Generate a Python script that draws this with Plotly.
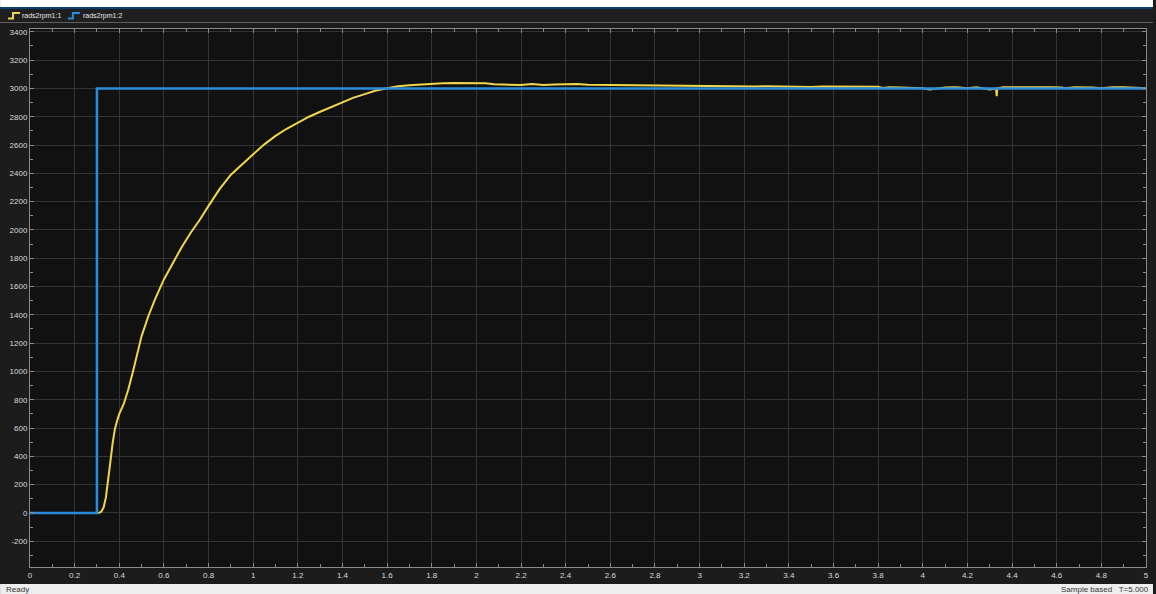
import plotly.graph_objects as go

# Scope signals: measured speed (rads2rpm1:1) and speed reference (rads2rpm1:2)
t_speed = [0.00, 0.30, 0.31, 0.32, 0.33, 0.34, 0.35, 0.36, 0.37, 0.38, 0.39, 0.40,
           0.42, 0.44, 0.46, 0.48, 0.50, 0.53, 0.56, 0.60, 0.64, 0.68, 0.72, 0.76,
           0.80, 0.85, 0.90, 0.95, 1.00, 1.05, 1.10, 1.15, 1.20, 1.25, 1.30, 1.35,
           1.40, 1.45, 1.50, 1.55, 1.60, 1.65, 1.70, 1.75, 1.80, 1.85, 1.90, 1.95,
           2.00, 2.04, 2.08, 2.12, 2.16, 2.20, 2.25, 2.30, 2.35, 2.40, 2.45, 2.50,
           2.55, 2.60, 2.65, 2.70, 2.75, 2.80, 2.85, 2.90, 2.95, 3.00, 3.05, 3.10,
           3.15, 3.20, 3.25, 3.30, 3.35, 3.40, 3.45, 3.50, 3.55, 3.60, 3.65, 3.70,
           3.75, 3.80, 3.82, 3.85, 3.90, 3.95, 4.00, 4.03, 4.06, 4.10, 4.15, 4.20,
           4.24, 4.27, 4.30, 4.328, 4.331, 4.334, 4.36, 4.40, 4.45, 4.50, 4.55, 4.58,
           4.62, 4.64, 4.68, 4.72, 4.76, 4.80, 4.85, 4.90, 4.95, 5.00]
speed_rpm = [0, 0, 2, 10, 40, 110, 220, 360, 490, 590, 650, 700,
             770, 870, 990, 1120, 1250, 1390, 1510, 1650, 1770, 1880, 1980, 2070,
             2170, 2290, 2390, 2465, 2535, 2605, 2665, 2715, 2760, 2800, 2835, 2870,
             2905, 2935, 2960, 2985, 3002, 3015, 3022, 3028, 3032, 3036, 3038, 3038,
             3038, 3036, 3030, 3028, 3026, 3024, 3031, 3024, 3027, 3030, 3031, 3026,
             3025, 3027, 3026, 3026, 3023, 3020, 3018, 3018, 3018, 3017, 3018, 3017,
             3015, 3016, 3014, 3015, 3013, 3012, 3013, 3011, 3013, 3012, 3011, 3013,
             3010, 3012, 3003, 3008, 3007, 3006, 3001, 2993, 3000, 3007, 3008, 3002,
             3008, 3001, 2993, 2999, 2945, 3000, 3008, 3008, 3009, 3008, 3006, 3008,
             3007, 3002, 3008, 3008, 3007, 3002, 3008, 3008, 3007, 3002]

t_ref = [0.0, 0.3, 5.0]
ref_rpm = [0, 3000, 3000]

x_ticks = [0, 0.2, 0.4, 0.6, 0.8, 1, 1.2, 1.4, 1.6, 1.8, 2, 2.2, 2.4, 2.6, 2.8,
           3, 3.2, 3.4, 3.6, 3.8, 4, 4.2, 4.4, 4.6, 4.8, 5]
y_ticks = [-200, 0, 200, 400, 600, 800, 1000, 1200, 1400, 1600, 1800, 2000,
           2200, 2400, 2600, 2800, 3000, 3200, 3400]
legend_names = ["rads2rpm1:1", "rads2rpm1:2"]

YELLOW = "#F0D64A"
BLUE = "#2A8CDB"
FONT = "Liberation Sans, Arial, sans-serif"

W, H = 1156, 594
ML, MR, MT, MB = 30, 7, 29, 27
PW, PH = W - ML - MR, H - MT - MB


def px(x):
    return (x - ML) / PW


def py(y):
    return (H - MB - y) / PH


fig = go.Figure()
fig.add_trace(go.Scatter(x=t_speed, y=speed_rpm, mode="lines", name=legend_names[0],
                         line=dict(color=YELLOW, width=2), showlegend=False))
fig.add_trace(go.Scatter(x=t_ref, y=ref_rpm, mode="lines", name=legend_names[1],
                         line=dict(color=BLUE, width=2.5, shape="hv"), showlegend=False))

tick_font = dict(family=FONT, size=8, color="#dadada")
axis_common = dict(
    showgrid=True, gridcolor="#343434", gridwidth=1, zeroline=False,
    showline=True, linecolor="#8a8a8a", linewidth=1, mirror="ticks",
    ticks="inside", ticklen=4, tickcolor="#8a8a8a", tickfont=tick_font,
)

fig.update_xaxes(range=[0, 5], tickvals=x_ticks,
                 ticktext=[f"{v:g}" for v in x_ticks],
                 minor=dict(dtick=0.1, ticks="inside", ticklen=3, tickcolor="#8a8a8a",
                            showgrid=False),
                 **axis_common)
fig.update_yaxes(range=[-382, 3420], tickvals=y_ticks,
                 ticktext=[str(v) for v in y_ticks],
                 minor=dict(dtick=100, ticks="inside", ticklen=3, tickcolor="#8a8a8a",
                            showgrid=False),
                 **axis_common)

shapes = [
    # window title strip, accent line and toolbar
    dict(type="rect", xref="paper", yref="paper", x0=px(0), x1=px(W), y0=py(7), y1=py(0),
         fillcolor="#ffffff", line=dict(width=0), layer="below"),
    dict(type="rect", xref="paper", yref="paper", x0=px(0), x1=px(W), y0=py(9), y1=py(7),
         fillcolor="#0e3d73", line=dict(width=0), layer="below"),
    dict(type="rect", xref="paper", yref="paper", x0=px(0), x1=px(W), y0=py(22), y1=py(9),
         fillcolor="#1f1f1f", line=dict(width=0), layer="below"),
    dict(type="line", xref="paper", yref="paper", x0=px(0), x1=px(W), y0=py(22.5), y1=py(22.5),
         line=dict(color="#5e5e5e", width=1)),
    # status bar
    dict(type="rect", xref="paper", yref="paper", x0=px(0), x1=px(W), y0=py(H), y1=py(584),
         fillcolor="#eeeeee", line=dict(width=0)),
    # legend glyphs
    dict(type="path", xref="paper", yref="paper",
         path=f"M {px(8)},{py(18.5)} L {px(13)},{py(18.5)} L {px(13)},{py(13)} L {px(20)},{py(13)}",
         line=dict(color=YELLOW, width=2)),
    dict(type="path", xref="paper", yref="paper",
         path=f"M {px(68)},{py(18.5)} L {px(73)},{py(18.5)} L {px(73)},{py(13)} L {px(80)},{py(13)}",
         line=dict(color=BLUE, width=2)),
]

annotations = [
    dict(text=legend_names[0], xref="paper", yref="paper", x=px(20), y=py(15.5),
         xanchor="left", yanchor="middle", showarrow=False,
         font=dict(family=FONT, size=7, color="#e6e6e6")),
    dict(text=legend_names[1], xref="paper", yref="paper", x=px(81), y=py(15.5),
         xanchor="left", yanchor="middle", showarrow=False,
         font=dict(family=FONT, size=7, color="#e6e6e6")),
    dict(text="Ready", xref="paper", yref="paper", x=px(4), y=py(589),
         xanchor="left", yanchor="middle", showarrow=False,
         font=dict(family=FONT, size=8, color="#333333")),
    dict(text="Sample based &nbsp; T=5.000", xref="paper", yref="paper", x=px(1154), y=py(589),
         xanchor="right", yanchor="middle", showarrow=False,
         font=dict(family=FONT, size=8, color="#333333")),
]

fig.update_layout(
    width=W, height=H,
    margin=dict(l=ML, r=MR, t=MT, b=MB, pad=0),
    paper_bgcolor="#1c1c1c", plot_bgcolor="#111111",
    shapes=shapes, annotations=annotations,
    showlegend=False,
)

fig.write_html("out.html", config=dict(displayModeBar=False))
